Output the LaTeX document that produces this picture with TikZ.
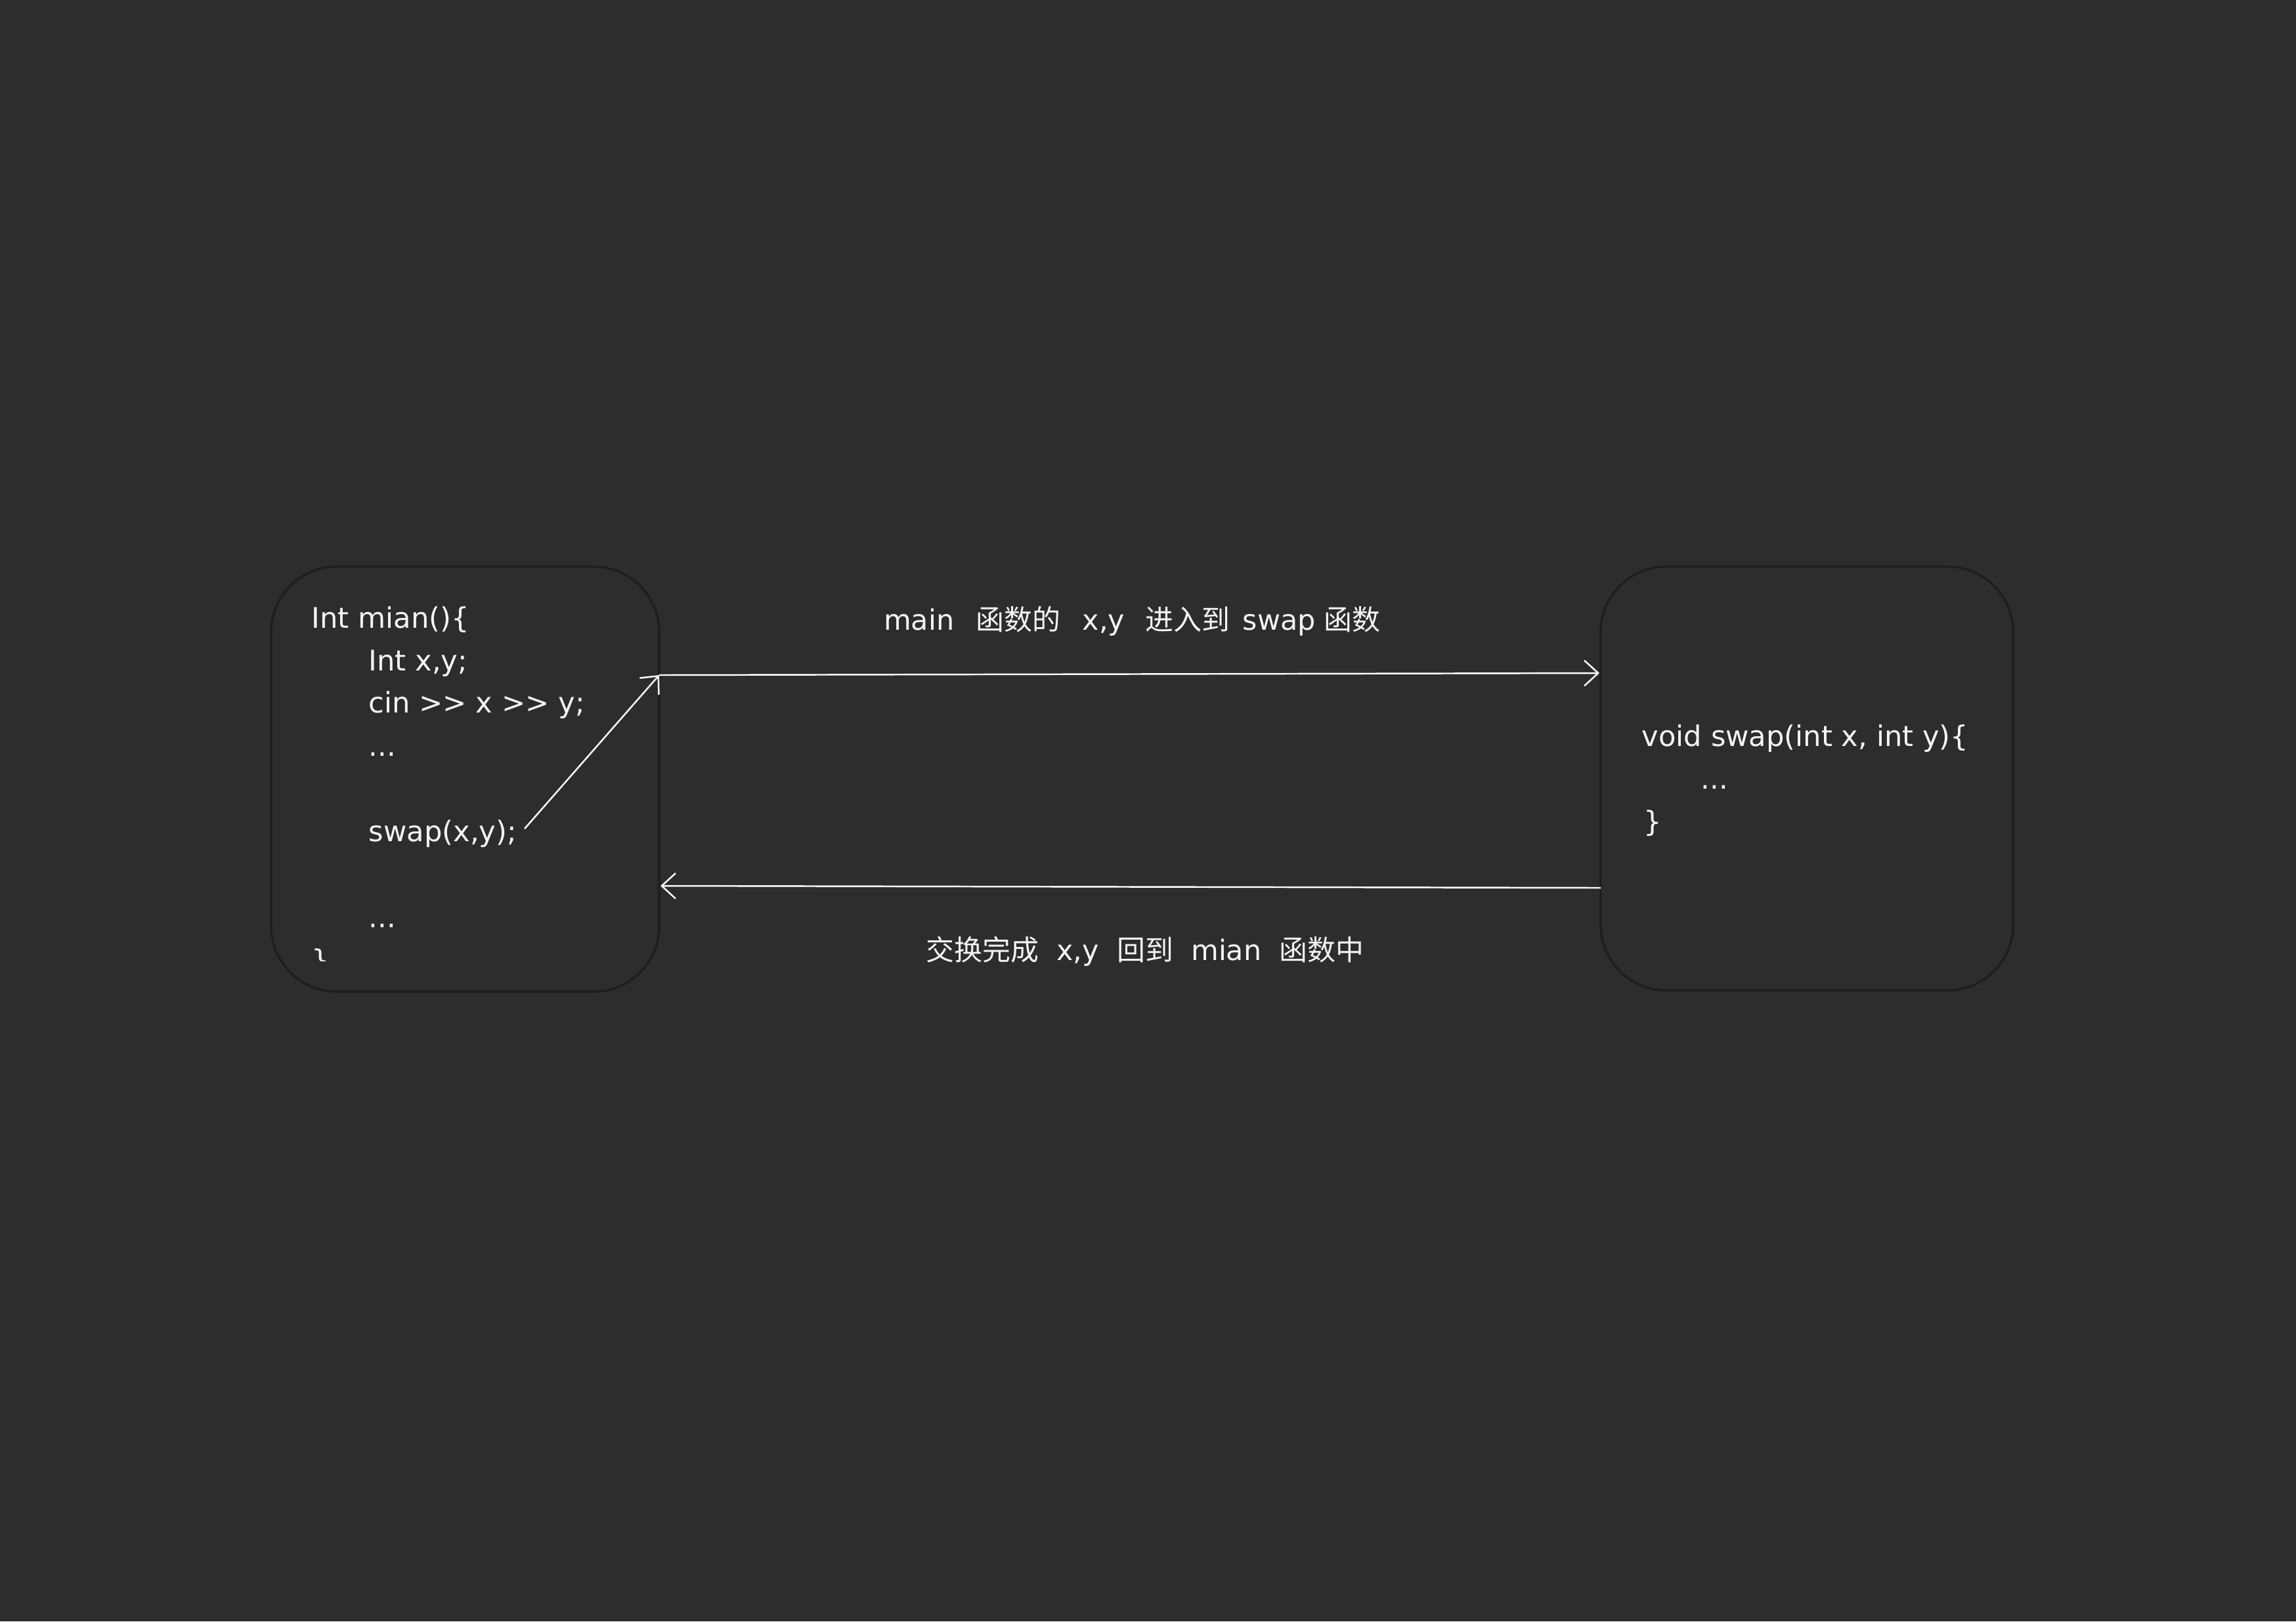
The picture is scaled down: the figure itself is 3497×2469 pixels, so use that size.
\documentclass[tikz,border=0pt]{standalone}
\usepackage{fontspec}
\setmainfont{DejaVu Sans}
\newfontfamily\cjk{Noto Sans CJK SC}
\usetikzlibrary{arrows.meta}
\definecolor{bg}{HTML}{2D2D2D}
\definecolor{boxline}{HTML}{1E1E1E}
\definecolor{txt}{HTML}{F4F4F4}
\tikzset{
  codebox/.style={draw=boxline, line width=1pt, fill=bg, rounded corners=1cm, inner sep=0pt},
  code/.style={anchor=base west, inner sep=0pt, text=txt, font=\fontsize{12.3}{14}\selectfont},
  lbl/.style={anchor=base, inner sep=0pt, text=txt, font=\fontsize{12.2}{14}\selectfont},
  conn/.style={draw=white, line width=0.7pt},
  tip/.style={-{Straight Barb[length=6pt,width=11pt]}}
}
\begin{document}
\begin{tikzpicture}[x=0.01cm,y=-0.01cm]
\useasboundingbox (0,0) rectangle (3497,2469);
\fill[bg] (0,0) rectangle (3497,2469);
% boxes
\node[codebox, minimum width=5.91cm, minimum height=6.47cm] (L) at (708.5,1186.5) {};
\node[codebox, minimum width=6.28cm, minimum height=6.45cm] (R) at (2752,1185.5) {};
% left code
\node[code] (l1) at (474,956) {Int mian()\{};
\node[code] (l2) at (561,1021) {Int x,y;};
\node[code] (l3) at (561,1085) {cin >\kern0pt> x >\kern0pt> y;};
\node[code] (l4) at (561,1151) {...};
\node[code] (l5) at (561,1281) {swap(x,y);};
\node[code] (l6) at (561,1412) {...};
\begin{scope}
\clip (460,1400) rectangle (530,1463);
\node[code] (l7) at (474,1477) {\}};
\end{scope}
% right code
\node[code] (r1) at (2500,1136) {void swap(int x, int y)\{};
\node[code] (r2) at (2590,1201) {...};
\node[code] (r3) at (2503,1266) {\}};
% connector points
\coordinate (j) at (1004,1028);
\coordinate (rin) at (2436,1025);
\coordinate (rout) at (2438,1352);
\coordinate (lin) at (1006,1349);
\coordinate (s) at (799,1262);
\draw[conn, tip] (s) -- (j);
\draw[conn, tip] (j) -- (rin);
\draw[conn, tip] (rout) -- (lin);
% labels
\node[lbl] (t1) at (1724,959) {main\hspace{9.5pt}{\cjk 函数的}\hspace{9.5pt}x,y\hspace{9pt}{\cjk 进入到}\hspace{5.5pt}swap\hspace{3.5pt}{\cjk 函数}};
\node[lbl] (t2) at (1744,1462) {{\cjk 交换完成}\ \ x,y\ \ {\cjk 回到}\ \ mian\ \ {\cjk 函数中}};
\end{tikzpicture}
\end{document}
